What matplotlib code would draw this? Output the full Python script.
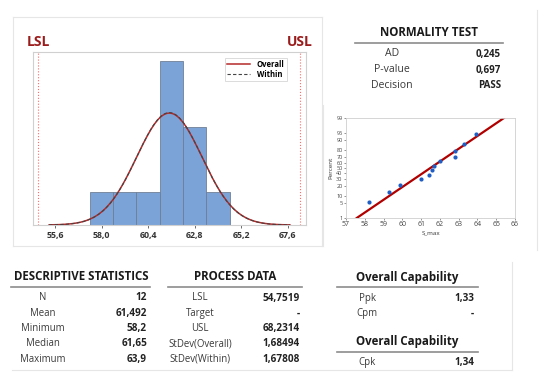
import numpy as np
import matplotlib.pyplot as plt
from matplotlib.lines import Line2D
from statistics import NormalDist

plt.rcParams['font.family'] = ['Open Sans', 'DejaVu Sans']

# dados da amostra (S_max)
s_max = [58.2, 59.3, 59.9, 61.0, 61.4, 61.6, 61.7, 62.0, 62.8, 62.8, 63.3, 63.9]
media = 61.492
desvio_overall = 1.68494
desvio_within = 1.67808
lsl = 54.7519
usl = 68.2314
centros_classes = [58.0, 59.2, 60.4, 61.6, 62.8, 64.0]
largura_classe = 1.2
ticks_hist = [55.6, 58.0, 60.4, 62.8, 65.2, 67.6]
ticks_prob_x = [57, 58, 59, 60, 61, 62, 63, 64, 65, 66]
ticks_prob_y = [1, 5, 10, 20, 30, 40, 50, 60, 70, 80, 90, 95, 99]

tab_normalidade = [("AD", "0,245"), ("P-value", "0,697"), ("Decision", "PASS")]
tab_descritiva = [("N", "12"), ("Mean", "61,492"), ("Minimum", "58,2"),
                  ("Median", "61,65"), ("Maximum", "63,9")]
tab_processo = [("LSL", "54,7519"), ("Target", "-"), ("USL", "68,2314"),
                ("StDev(Overall)", "1,68494"), ("StDev(Within)", "1,67808")]
tab_overall = [("Ppk", "1,33"), ("Cpm", "-")]
tab_potential = [("Cpk", "1,34")]

W, H = 550, 380
fig = plt.figure(figsize=(W / 100, H / 100), dpi=100)
fig.patch.set_facecolor('white')


def eixo_px(x0, y0, x1, y1):
    return fig.add_axes([x0 / W, 1 - y1 / H, (x1 - x0) / W, (y1 - y0) / H])


def texto(x, y, s, **kw):
    fig.text(x / W, 1 - y / H, s, va='center', **kw)


def linha(x0, x1, y0, y1, cor='#e6e6e6', lw=0.8):
    fig.add_artist(Line2D([x0 / W, x1 / W], [1 - y0 / H, 1 - y1 / H], color=cor, lw=lw))


def tabela(titulo, linhas, xc, y_tit, x0, x1, x_lab, x_val, y_ini, passo=15.3,
           tam_lab=6.9, tam_val=7.2):
    texto(xc, y_tit, titulo, ha='center', fontsize=8.3, fontweight='bold', color='#1a1a1a')
    linha(x0, x1, y_tit + 10, y_tit + 10, cor='#8c8c8c', lw=1.2)
    for i, (lab, val) in enumerate(linhas):
        y = y_ini + i * passo
        texto(x_lab, y, lab, ha='center', fontsize=tam_lab, color='#3a3a3a')
        texto(x_val, y, val, ha='right', fontsize=tam_val, fontweight='bold', color='#222222')


# molduras claras
linha(13, 322, 17, 17)
linha(13, 13, 17, 246)
linha(322, 322, 17, 246)
linha(13, 322, 246, 246)
linha(323, 323, 105, 246)
linha(537, 537, 10, 250)
linha(12, 512, 370, 370)
linha(512, 512, 262, 370)

# histograma de capacidade
ax = eixo_px(33, 52, 306, 225)
bordas = np.round(np.array(centros_classes + [centros_classes[-1] + largura_classe]) - largura_classe / 2, 6)
ax.hist(s_max, bins=bordas, color='#7ba3d8', edgecolor='#6f7f95', linewidth=0.6, zorder=2)
xs = np.linspace(55.3, 67.7, 300)
escala = len(s_max) * largura_classe
y_over = [NormalDist(media, desvio_overall).pdf(v) * escala for v in xs]
y_with = [NormalDist(media, desvio_within).pdf(v) * escala for v in xs]
ax.plot(xs, y_over, color='#b52a2a', lw=1.1, zorder=3, label='Overall')
ax.plot(xs, y_with, color='#444444', lw=0.8, ls=(0, (3, 2)), zorder=4, label='Within')
ax.axvline(lsl, color='#ff6b6b', lw=0.8, ls=':', zorder=1)
ax.axvline(usl, color='#ff6b6b', lw=0.8, ls=':', zorder=1)
ax.set_xlim(54.47, 68.53)
ax.set_ylim(0, 5.27)
ax.set_yticks([])
ax.set_xticks(ticks_hist)
ax.set_xticklabels([f"{t:.1f}".replace('.', ',') for t in ticks_hist])
ax.tick_params(axis='x', labelsize=6.3, length=2, pad=2, colors='#333333', width=0.5)
for lab in ax.get_xticklabels():
    lab.set_fontweight('bold')
for sp in ax.spines.values():
    sp.set_color('#d0d0d0')
    sp.set_linewidth(0.8)
leg = ax.legend(loc='upper right', fontsize=5.5, frameon=True, fancybox=False,
                handlelength=3, borderpad=0.3, labelspacing=0.1, borderaxespad=0.4,
                bbox_to_anchor=(0.94, 0.985))
leg.get_frame().set_edgecolor('#cccccc')
leg.get_frame().set_linewidth(0.6)
for t in leg.get_texts():
    t.set_fontweight('bold')

texto(38, 42, "LSL", ha='center', fontsize=10, color='#9b1c1c', fontweight='bold')
texto(300, 42, "USL", ha='center', fontsize=10, color='#9b1c1c', fontweight='bold')

# grafico de probabilidade normal
axp = eixo_px(346, 118, 515, 218)
n = len(s_max)
ordenado = sorted(s_max)
z_pts = [NormalDist().inv_cdf((i + 1 - 0.3) / (n + 0.4)) for i in range(n)]
z_lim = [NormalDist().inv_cdf(0.01), NormalDist().inv_cdf(0.99)]
axp.plot([media + z * desvio_overall for z in z_lim], z_lim, color='#b00000', lw=1.6, zorder=2)
axp.scatter(ordenado, z_pts, s=9, color='#1f5fc4', zorder=3, linewidths=0)
axp.set_xlim(57, 66)
axp.set_ylim(z_lim)
axp.set_xticks(ticks_prob_x)
axp.set_yticks([NormalDist().inv_cdf(p / 100) for p in ticks_prob_y])
axp.set_yticklabels([str(p) for p in ticks_prob_y])
axp.tick_params(labelsize=4, length=1.5, width=0.4, pad=1, colors='#444444')
axp.tick_params(axis='x', labelsize=5)
axp.set_xlabel("S_max", fontsize=4.5, labelpad=1, color='#333333')
axp.set_ylabel("Percent", fontsize=4.5, labelpad=2, color='#333333')
for sp in axp.spines.values():
    sp.set_color('#cfcfcf')
    sp.set_linewidth(0.6)

# tabelas
tabela("NORMALITY TEST", tab_normalidade, 429, 33, 355, 503, 392, 501, 54, 16, 7.6, 7.0)
tabela("DESCRIPTIVE STATISTICS", tab_descritiva, 81, 277, 11, 150, 43, 147, 298)
tabela("PROCESS DATA", tab_processo, 235, 277, 168, 302, 200, 300, 298)
tabela("Overall Capability", tab_overall, 407, 277, 337, 478, 367, 474, 298)
tabela("Overall Capability", tab_potential, 407, 342, 337, 478, 367, 474, 363)

fig.savefig("out.png", dpi=100, facecolor='white')
